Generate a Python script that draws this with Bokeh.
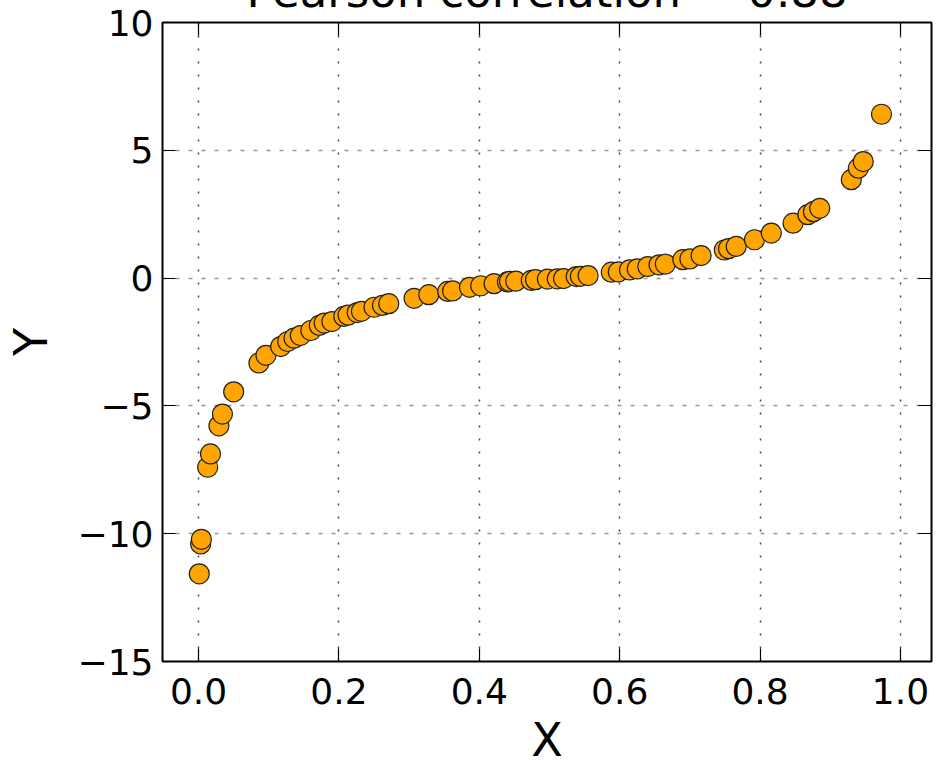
from bokeh.plotting import figure
from bokeh.models import ColumnDataSource, FixedTicker, LinearAxis, Range1d, CustomLabelingPolicy
from bokeh.embed import file_html
from bokeh.resources import INLINE

# ---- data ----
x_vals = [0.001, 0.003, 0.004, 0.013, 0.017, 0.029, 0.034, 0.050, 0.086, 0.096,
          0.117, 0.127, 0.136, 0.145, 0.160, 0.172, 0.179, 0.190, 0.207, 0.213,
          0.226, 0.232, 0.250, 0.262, 0.271, 0.307, 0.328, 0.355, 0.362, 0.386,
          0.402, 0.421, 0.440, 0.443, 0.452, 0.474, 0.480, 0.497, 0.511, 0.520,
          0.538, 0.544, 0.555, 0.588, 0.598, 0.614, 0.625, 0.640, 0.656, 0.665,
          0.690, 0.700, 0.716, 0.749, 0.755, 0.766, 0.792, 0.816, 0.847, 0.868,
          0.876, 0.885, 0.930, 0.940, 0.947, 0.973]
y_vals = [-11.57, -10.40, -10.22, -7.40, -6.88, -5.78, -5.32, -4.45, -3.32, -3.02,
          -2.68, -2.48, -2.35, -2.25, -2.05, -1.85, -1.76, -1.70, -1.50, -1.45,
          -1.35, -1.30, -1.14, -1.07, -1.00, -0.79, -0.65, -0.52, -0.50, -0.36,
          -0.30, -0.22, -0.15, -0.13, -0.12, -0.09, -0.06, -0.04, -0.03, -0.02,
          0.06, 0.07, 0.10, 0.23, 0.24, 0.32, 0.36, 0.45, 0.52, 0.55,
          0.72, 0.75, 0.88, 1.10, 1.15, 1.24, 1.50, 1.76, 2.15, 2.48,
          2.60, 2.73, 3.85, 4.30, 4.56, 6.41]
x_ticks = [0.0, 0.2, 0.4, 0.6, 0.8, 1.0]
y_ticks = [-15, -10, -5, 0, 5, 10]
title_text = "Pearson correlation = 0.88"
x_label = "X"
y_label = "Y"

FONT = "DejaVu Sans"

# The canvas is shifted up so that, as in the reference, only the lower
# part of the title is inside the picture.
p = figure(width=936, height=810, output_backend="svg", toolbar_location=None,
           x_range=Range1d(-0.0514, 1.0442), y_range=Range1d(-15, 10),
           min_border_left=162, min_border_right=4, min_border_top=62,
           min_border_bottom=109, background_fill_color="white",
           border_fill_color="white")
p.styles = {"margin-top": "-40px"}
p.outline_line_color = "black"
p.outline_line_width = 2

p.title.text = title_text
p.title.text_font = FONT
p.title.text_font_size = "45px"
p.title.text_font_style = "normal"
p.title.text_color = "black"
p.title.align = "center"
p.title.vertical_align = "bottom"
p.title.standoff = 2

src = ColumnDataSource(dict(x=x_vals, y=y_vals))
p.scatter("x", "y", source=src, size=20, fill_color="#FFA500",
          line_color="#222222", line_width=1.2)

for ax in (p.xaxis[0], p.yaxis[0]):
    ax.major_label_text_font = FONT
    ax.major_label_text_font_size = "36px"
    ax.major_label_text_color = "black"
    ax.axis_label_text_font = FONT
    ax.axis_label_text_font_size = "46px"
    ax.axis_label_text_font_style = "normal"
    ax.axis_label_text_color = "black"
    ax.major_tick_in = 13
    ax.major_tick_out = 0
    ax.major_tick_line_color = "black"
    ax.major_tick_line_width = 1.2
    ax.minor_tick_line_color = None
    ax.axis_line_color = None

p.xaxis[0].ticker = FixedTicker(ticks=x_ticks)
p.yaxis[0].ticker = FixedTicker(ticks=y_ticks)
p.xaxis[0].axis_label = x_label
p.yaxis[0].axis_label = y_label
p.xaxis[0].major_label_standoff = 16
p.xaxis[0].axis_label_standoff = 6
p.yaxis[0].major_label_standoff = 9
p.yaxis[0].axis_label_standoff = 17
p.xaxis[0].major_label_overrides = {t: f"{t:.1f}" for t in x_ticks}
p.yaxis[0].major_label_overrides = {t: (str(t).replace("-", "\u2212")) for t in y_ticks}

# mirrored tick marks on the top and right sides (labels hidden)
no_labels = CustomLabelingPolicy(code="return new Set()")
top_ax = LinearAxis(ticker=FixedTicker(ticks=x_ticks), major_label_text_font_size="1px",
                    major_label_standoff=0, axis_label_standoff=0,
                    major_tick_in=13, major_tick_out=0, major_tick_line_width=1.2,
                    major_label_policy=no_labels,
                    minor_tick_line_color=None, axis_line_color=None)
right_ax = LinearAxis(ticker=FixedTicker(ticks=y_ticks), major_label_text_font_size="1px",
                      major_label_standoff=0, axis_label_standoff=0,
                      major_tick_in=13, major_tick_out=0, major_tick_line_width=1.2,
                      major_label_policy=no_labels,
                      minor_tick_line_color=None, axis_line_color=None)
p.add_layout(top_ax, "above")
p.add_layout(right_ax, "right")

p.xgrid.ticker = FixedTicker(ticks=x_ticks)
p.ygrid.ticker = FixedTicker(ticks=y_ticks)
p.xgrid.grid_line_color = "#444444"
p.xgrid.grid_line_width = 1.5
p.xgrid.grid_line_dash = "2 11"
p.ygrid.grid_line_color = "#999999"
p.ygrid.grid_line_width = 1.5
p.ygrid.grid_line_dash = "4 9"

open("out.html", "w").write(file_html(p, INLINE))
